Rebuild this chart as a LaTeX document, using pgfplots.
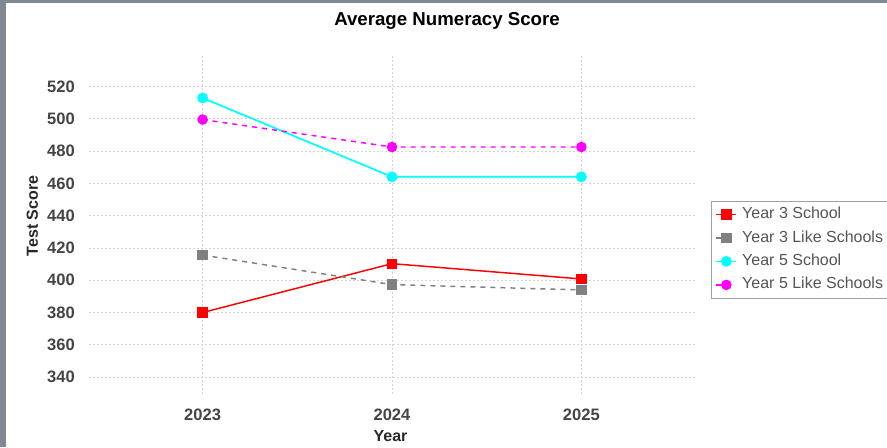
\documentclass[border=0pt]{standalone}
\usepackage{fontspec}
\setmainfont{Liberation Sans}
\usepackage{pgfplots}
\pgfplotsset{compat=1.18}
\definecolor{bordergray}{RGB}{128,137,146}
\definecolor{ticktext}{RGB}{68,68,68}
\definecolor{labeltext}{RGB}{40,40,40}
\definecolor{legtext}{RGB}{85,85,85}
\definecolor{axgray}{RGB}{160,160,160}
\definecolor{gridgray}{RGB}{212,212,212}
\definecolor{sred}{RGB}{255,0,0}
\definecolor{sgray}{RGB}{128,128,128}
\definecolor{scyan}{RGB}{0,255,255}
\definecolor{smag}{RGB}{255,0,255}
\begin{document}
\begin{tikzpicture}
\fill[bordergray] (0,0) rectangle (665.25pt,335.25pt);
\fill[white] (4.5pt,0) rectangle (665.25pt,333pt);
\begin{axis}[
  at={(66.75pt,39.75pt)}, anchor=south west,
  scale only axis,
  width=454.5pt, height=253.5pt,
  xmin=-0.6, xmax=2.6,
  ymin=329.5, ymax=539,
  xtick={0,1,2}, xticklabels={2023,2024,2025},
  ytick={340,360,...,520},
  axis line style={draw=none},
  tick style={draw=none},
  grid=major,
  major grid style={gridgray, line width=0.7pt, dash pattern=on 1.5pt off 1.5pt},
  /pgf/number format/assume math mode=true,
  /pgf/number format/1000 sep={},
  ticklabel style={font=\fontsize{12.4}{14}\selectfont\bfseries, text=ticktext, inner sep=0pt},
  yticklabel style={anchor=east, xshift=-10.5pt},
  xticklabel style={anchor=base, yshift=-19.5pt},
  every axis title shift=0pt,
  title={Average Numeracy Score},
  title style={at={(axis description cs:0.5908,1.0888)}, anchor=base, yshift=0pt, font=\fontsize{14}{16}\selectfont\bfseries, text=black, inner sep=0pt},
  xlabel={Year},
  xlabel style={at={(axis description cs:0.4975,-0.1405)}, anchor=base, font=\fontsize{12}{14}\selectfont\bfseries, text=labeltext, inner sep=0pt},
  ylabel={Test Score},
  ylabel style={at={(axis description cs:-0.0842,0.5266)}, anchor=base, rotate=0, font=\fontsize{12}{14}\selectfont\bfseries, text=labeltext, inner sep=0pt},
  legend style={at={(axis description cs:1.0264,0.5719)}, anchor=north west,
    draw=axgray, line width=0.75pt, fill=white,
    font=\fontsize{12}{14}\selectfont, text=legtext,
    inner xsep=3pt, inner ysep=4.4pt, row sep=6.5pt,
    nodes={inner sep=0pt, text height=8.6pt, text depth=2.5pt}},
  legend cell align=left,
  legend image code/.code={\draw[mark repeat=2,mark phase=2,#1] plot coordinates {(0pt,0pt) (7.5pt,0pt) (15pt,0pt)};},
  /tikz/every odd column/.append style={column sep=3.75pt},
]
\addplot[sred, line width=1.1pt, mark=square*, mark size=3.3pt, mark options={solid}]
  coordinates {(0,380) (1,410.3) (2,400.8)};
\addlegendentry{Year 3 School}
\addplot[sgray, line width=1.1pt, dash pattern=on 3.75pt off 3.75pt, mark=square*, mark size=3.3pt, mark options={solid}]
  coordinates {(0,415.6) (1,397.3) (2,394)};
\addlegendentry{Year 3 Like Schools}
\addplot[scyan, line width=1.3pt, mark=*, mark size=3.4pt, mark options={solid}]
  coordinates {(0,513) (1,464.1) (2,464.1)};
\addlegendentry{Year 5 School}
\addplot[smag, line width=1.1pt, dash pattern=on 3.75pt off 3.75pt, mark=*, mark size=3.4pt, mark options={solid}]
  coordinates {(0,499.6) (1,482.6) (2,482.6)};
\addlegendentry{Year 5 Like Schools}
\draw[axgray, line width=0.75pt] ([xshift=-3.75pt]axis description cs:0,0) -- ([xshift=-3.75pt]axis description cs:0,1);
\draw[axgray, line width=0.75pt] ([yshift=-3.75pt]axis description cs:0,0) -- ([yshift=-3.75pt]axis description cs:1,0);
\end{axis}
\pgfresetboundingbox
\useasboundingbox (0,0) rectangle (665.25pt,335.25pt);
\end{tikzpicture}
\end{document}
